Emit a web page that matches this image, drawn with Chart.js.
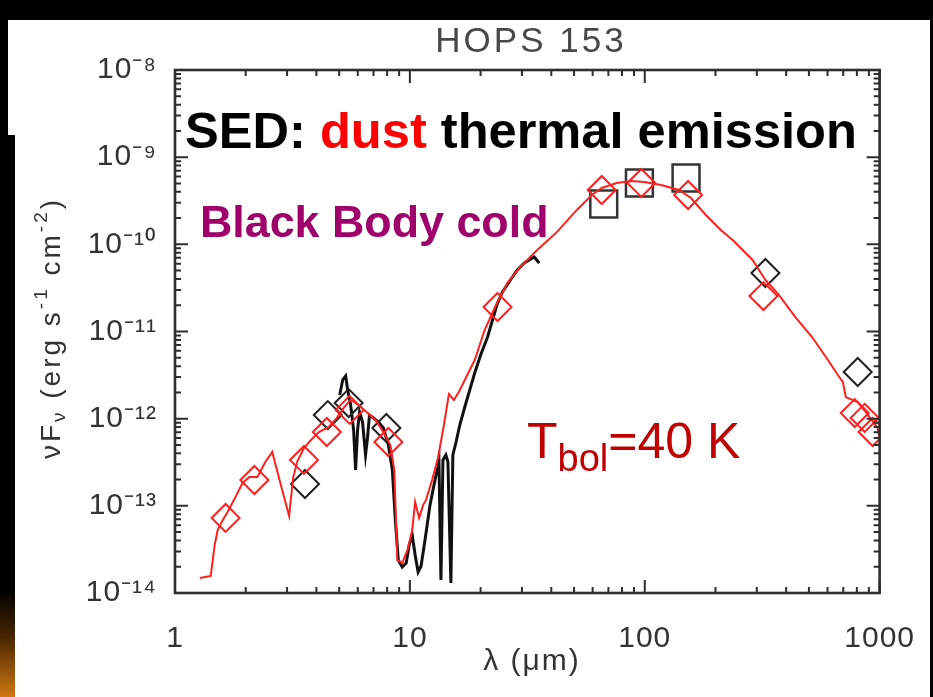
<!DOCTYPE html>
<html><head><meta charset="utf-8">
<script src="https://cdn.jsdelivr.net/npm/chart.js@4.4.1/dist/chart.umd.min.js"></script>
<style>html,body{margin:0;padding:0;background:#000;overflow:hidden}canvas{display:block}</style>
</head><body>
<canvas id="c" width="933" height="697"></canvas>
<script>
// ---- tick values ----
const xTicks = [1, 10, 100, 1000];
const yTicks = [1e-14, 1e-13, 1e-12, 1e-11, 1e-10, 1e-9, 1e-8];

// ---- model SED (red line) ----
const modelWave = [1.275, 1.419, 1.476, 1.519, 1.580, 1.675, 1.810, 1.938, 2.074, 2.242, 2.424, 2.594, 2.860, 3.061, 3.183, 3.308, 3.541, 3.791, 4.099, 4.517, 4.884, 5.226, 5.595, 6.047, 6.538, 7.137, 7.715, 8.256, 8.585, 8.839, 9.279, 9.836, 10.23, 10.53, 10.95, 11.38, 11.72, 12.43, 13.17, 13.96, 14.66, 15.39, 16.16, 17.13, 18.88, 20.81, 22.94, 26.02, 29.53, 34.84, 42.31, 51.40, 59.49, 65.58, 75.86, 87.79, 99.6, 117.5, 140.0, 157.3, 182.0, 210.7, 236.7, 287.7, 326.4, 370.3, 437.0, 515.6, 602.5, 664.0, 697.0, 717.8, 806.7, 880.5, 979.7, 1000];
const modelFlux = [1.49e-14, 1.57e-14, 3.56e-14, 5.28e-14, 6.53e-14, 8.50e-14, 1.26e-13, 1.83e-13, 2.14e-13, 2.14e-13, 3.18e-13, 4.15e-13, 1.52e-13, 7.65e-14, 2.09e-13, 3.18e-13, 4.61e-13, 5.69e-13, 7.03e-13, 8.03e-13, 1.02e-12, 1.33e-12, 1.64e-12, 1.44e-12, 1.19e-12, 9.66e-13, 7.03e-13, 4.99e-13, 2.58e-13, 2.39e-14, 2.21e-14, 3.28e-14, 5.28e-14, 1.11e-13, 7.26e-14, 1.02e-13, 1.17e-13, 1.98e-13, 3.54e-13, 8.46e-13, 1.92e-12, 1.64e-12, 2.02e-12, 2.78e-12, 4.71e-12, 1.04e-11, 1.86e-11, 3.61e-11, 5.50e-11, 8.61e-11, 1.39e-10, 2.48e-10, 3.68e-10, 4.43e-10, 5.06e-10, 5.33e-10, 5.19e-10, 4.80e-10, 4.20e-10, 3.40e-10, 2.17e-10, 1.46e-10, 1.12e-10, 6.61e-11, 3.90e-11, 2.69e-11, 1.47e-11, 8.65e-12, 4.71e-12, 3.17e-12, 2.64e-12, 1.77e-12, 1.55e-12, 1.16e-12, 7.82e-13, 6.00e-13];

// ---- observed IRS spectrum (black line) ----
const irsWave = [5.027, 5.176, 5.329, 5.434, 5.595, 5.761, 5.873, 5.989, 6.106, 6.287, 6.474, 6.600, 6.730, 6.998, 7.346, 7.715, 8.099, 8.421, 8.670, 8.927, 9.279, 9.647, 9.932, 10.23, 10.53, 10.84, 11.16, 11.60, 12.18, 12.79, 13.30, 13.56, 13.83, 14.23, 14.52, 14.95, 15.24, 15.69, 16.31, 17.13, 17.98, 18.88, 20.01, 21.42, 22.49, 23.61, 24.79, 26.79, 28.68, 30.70, 33.83, 35.53];
const irsFlux = [1.87e-12, 2.78e-12, 3.09e-12, 2.13e-12, 1.44e-12, 7.41e-13, 2.58e-13, 7.41e-13, 1.19e-12, 9.16e-13, 3.83e-13, 6.00e-13, 1.10e-12, 1.02e-12, 9.16e-13, 7.82e-13, 4.99e-13, 2.58e-13, 6.88e-14, 2.39e-14, 1.99e-14, 2.21e-14, 3.56e-14, 4.63e-14, 2.73e-14, 1.74e-14, 2.04e-14, 4.06e-14, 1.02e-13, 1.98e-13, 3.18e-13, 1.41e-14, 3.36e-13, 3.83e-13, 3.18e-13, 1.30e-14, 3.83e-13, 5.26e-13, 8.46e-13, 1.36e-12, 2.13e-12, 3.34e-12, 5.37e-12, 8.65e-12, 1.36e-11, 2.12e-11, 2.84e-11, 3.90e-11, 5.08e-11, 6.11e-11, 7.16e-11, 6.11e-11];

// ---- model photometry (red diamonds) ----
const modelPhotWave = [1.642, 2.178, 3.541, 4.430, 5.541, 8.099, 23.61, 65.58, 96.74, 152.9, 320.1, 783.4, 863.6, 933.2];
const modelPhotFlux = [7.26e-14, 1.98e-13, 3.36e-13, 7.03e-13, 1.26e-12, 5.40e-13, 1.91e-11, 4.20e-10, 5.06e-10, 3.68e-10, 2.55e-11, 1.16e-12, 1.02e-12, 7.03e-13];

// ---- observed photometry (black diamonds) ----
const obsDiamondWave = [3.576, 4.473, 5.487, 7.943, 326.4, 806.7];
const obsDiamondFlux = [1.78e-13, 1.10e-12, 1.51e-12, 7.82e-13, 4.69e-11, 3.43e-12];

// ---- observed PACS photometry (black squares) ----
const obsSquareWave = [66.9, 94.9, 149.9];
const obsSquareFlux = [2.90e-10, 5.06e-10, 5.77e-10];

const pts = (xs, ys) => xs.map((v, i) => ({x: v, y: ys[i]}));
const SUP = {'-':'\u207B','0':'\u2070','1':'\u00B9','2':'\u00B2','3':'\u00B3','4':'\u2074','5':'\u2075','6':'\u2076','7':'\u2077','8':'\u2078','9':'\u2079'};
const sup = s => String(s).split('').map(c => SUP[c]).join('');
const FONT = '"Liberation Sans", Arial, sans-serif';

const bgPlugin = {
  id: 'bg',
  beforeDraw(chart) {
    const ctx = chart.ctx;
    ctx.save();
    ctx.fillStyle = '#000'; ctx.fillRect(0, 0, 933, 697);
    ctx.fillStyle = '#fff'; ctx.fillRect(15, 20, 915, 677); ctx.fillRect(8, 20, 7, 115);
    const g = ctx.createLinearGradient(0, 590, 0, 697);
    g.addColorStop(0, '#000'); g.addColorStop(0.45, '#4a2600'); g.addColorStop(1, '#d07812');
    ctx.fillStyle = g; ctx.fillRect(0, 590, 15, 107);
    ctx.restore();
    ctx.letterSpacing = '1px';
  },
  beforeDatasetsDraw(chart) { chart.ctx.letterSpacing = '0px'; }
};

const framePlugin = {
  id: 'frame',
  afterDatasetsDraw(chart) {
    const {ctx, chartArea: a, scales: {x, y}} = chart;
    ctx.save();
    ctx.strokeStyle = '#2e2e2e';
    ctx.lineWidth = 2;
    ctx.beginPath();
    for (let d = 1; d <= 1000; d *= 10) {
      for (let m = 1; m <= 9; m++) {
        const v = d * m; if (v > x.max * 1.0001) break;
        const p = x.getPixelForValue(v); const len = m === 1 ? 13 : 6;
        ctx.moveTo(p, a.bottom); ctx.lineTo(p, a.bottom - len);
        ctx.moveTo(p, a.top); ctx.lineTo(p, a.top + len);
      }
    }
    for (let e = -14; e <= -8; e++) {
      for (let m = 1; m <= 9; m++) {
        const v = m * Math.pow(10, e); if (v > y.max * 1.0001) break;
        const p = y.getPixelForValue(v); const len = m === 1 ? 13 : 6;
        ctx.moveTo(a.left, p); ctx.lineTo(a.left + len, p);
        ctx.moveTo(a.right, p); ctx.lineTo(a.right - len, p);
      }
    }
    ctx.stroke();
    ctx.lineWidth = 2.6;
    ctx.strokeRect(a.left, a.top, a.right - a.left, a.bottom - a.top);
    ctx.restore();
  }
};

function runs(ctx, parts, x, y) {
  let cx = x;
  for (const [t, f, c, dy] of parts) {
    ctx.font = f; ctx.fillStyle = c;
    ctx.fillText(t, cx, y + (dy || 0));
    cx += ctx.measureText(t).width;
  }
  return cx - x;
}
function runsWidth(ctx, parts) {
  let w = 0;
  for (const [t, f] of parts) { ctx.font = f; w += ctx.measureText(t).width; }
  return w;
}

const textPlugin = {
  id: 'texts',
  afterDraw(chart) {
    const ctx = chart.ctx;
    ctx.save();
    // chart title
    ctx.letterSpacing = '3px';
    ctx.font = '35px ' + FONT; ctx.fillStyle = '#484848';
    ctx.textAlign = 'center'; ctx.textBaseline = 'middle';
    ctx.fillText('HOPS 153', 531, 42);
    // x axis title
    ctx.letterSpacing = '2px';
    ctx.font = '30px ' + FONT; ctx.fillStyle = '#333';
    ctx.fillText('\u03BB (\u03BCm)', 532, 662);
    // y axis title (rotated)
    ctx.textAlign = 'left'; ctx.textBaseline = 'middle';
    ctx.letterSpacing = '3px';
    const big = '28px ' + FONT, small = '19px ' + FONT, col = '#333';
    const yParts = [['\u03BDF', big, col, 0], ['\u03BD', small, col, 8], [' (erg s', big, col, 0], ['-1', small, col, -10], [' cm', big, col, 0], ['-2', small, col, -10], [')', big, col, 0]];
    ctx.translate(52, 328); ctx.rotate(-Math.PI / 2);
    const w = runsWidth(ctx, yParts);
    runs(ctx, yParts, -w / 2, 0);
    ctx.setTransform(1, 0, 0, 1, 0, 0);
    // overlay annotations
    ctx.letterSpacing = '0px';
    ctx.textAlign = 'left'; ctx.textBaseline = 'alphabetic';
    const b50 = 'bold 50.6px ' + FONT;
    runs(ctx, [['SED: ', b50, '#000'], ['dust', b50, '#ff0000'], [' thermal emission', b50, '#000']], 185, 148);
    runs(ctx, [['Black Body cold', 'bold 44.8px ' + FONT, '#a0006a']], 200, 237);
    const n50 = '50px ' + FONT;
    runs(ctx, [['T', n50, '#c00000', 0], ['bol', '38px ' + FONT, '#c00000', 13], ['=40 K', n50, '#c00000', 0]], 527, 458);
    ctx.restore();
  }
};

new Chart(document.getElementById('c'), {
  type: 'scatter',
  data: {
    datasets: [
      {label: 'model photometry', data: pts(modelPhotWave, modelPhotFlux), pointStyle: 'rectRot', pointRadius: 14, pointBorderWidth: 2, pointBorderColor: '#ff2020', pointBackgroundColor: 'rgba(0,0,0,0)', showLine: false, order: 1},
      {label: 'model SED', data: pts(modelWave, modelFlux), showLine: true, borderColor: '#ff2020', borderWidth: 2, pointRadius: 0, tension: 0, order: 2},
      {label: 'observed', data: pts(obsDiamondWave, obsDiamondFlux), pointStyle: 'rectRot', pointRadius: 14, pointBorderWidth: 2, pointBorderColor: '#222', pointBackgroundColor: 'rgba(0,0,0,0)', showLine: false, order: 3},
      {label: 'PACS', data: pts(obsSquareWave, obsSquareFlux), pointStyle: 'rect', pointRadius: 19, pointBorderWidth: 2.5, pointBorderColor: '#333', pointBackgroundColor: 'rgba(0,0,0,0)', showLine: false, order: 3},
      {label: 'IRS spectrum', data: pts(irsWave, irsFlux), showLine: true, borderColor: '#111', borderWidth: 3, pointRadius: 0, tension: 0, order: 4}
    ]
  },
  options: {
    responsive: false, animation: false, devicePixelRatio: 1,
    layout: {padding: {left: 0, right: 48, top: 70, bottom: 0}},
    plugins: {legend: {display: false}, tooltip: {enabled: false}, title: {display: false}},
    scales: {
      x: {
        type: 'logarithmic', position: 'bottom', min: 1, max: 1000,
        afterBuildTicks: s => { s.ticks = xTicks.map(v => ({value: v})); },
        afterFit: s => { s.height = 104; },
        grid: {display: false}, border: {display: false},
        ticks: {autoSkip: false, maxRotation: 0, padding: 20, color: '#333', font: {family: 'Liberation Sans', size: 30},
          callback: v => String(Math.round(v))}
      },
      y: {
        type: 'logarithmic', position: 'left', min: 1e-14, max: 1e-8,
        afterBuildTicks: s => { s.ticks = yTicks.map(v => ({value: v})); },
        afterFit: s => { s.width = 175; },
        grid: {display: false}, border: {display: false},
        ticks: {autoSkip: false, padding: 10, color: '#333', font: {family: 'Liberation Sans', size: 30},
          callback: v => '10' + sup(Math.round(Math.log10(v)))}
      }
    }
  },
  plugins: [bgPlugin, framePlugin, textPlugin]
});
</script>
</body></html>
